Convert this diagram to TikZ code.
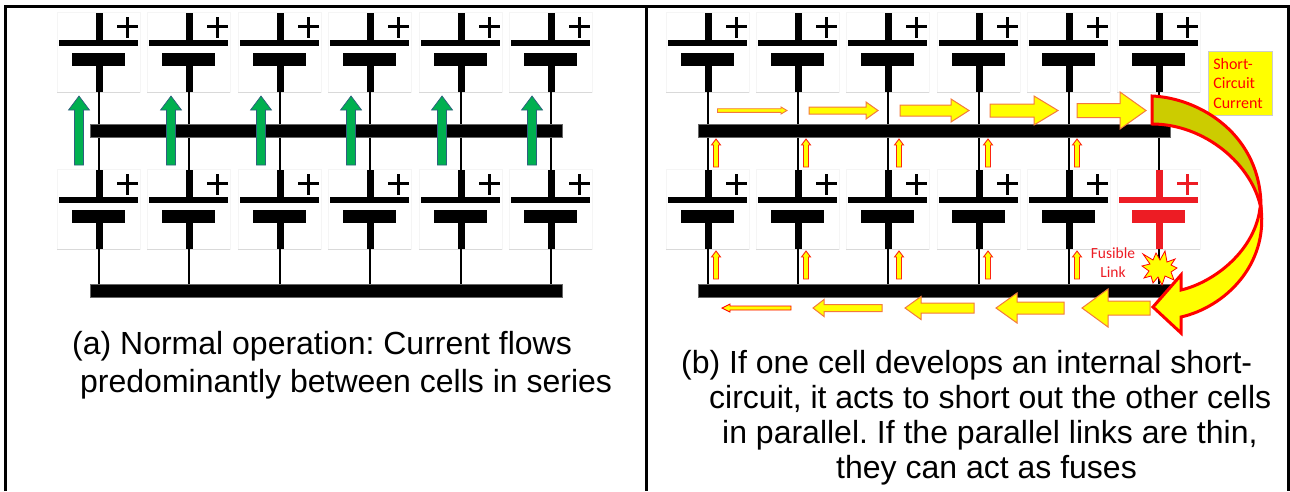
\documentclass[tikz,border=0pt]{standalone}
\usepackage{fontspec}
\setmainfont{Liberation Sans}
\newfontfamily\calfont{Carlito}
\definecolor{olivey}{HTML}{CCCC00}
\definecolor{cellred}{HTML}{ED1C24}
\definecolor{greenar}{HTML}{00B050}
\definecolor{greenedge}{HTML}{2F5F7F}
\definecolor{arrowedge}{HTML}{F4793B}
\definecolor{pureyellow}{HTML}{FFFF00}
\definecolor{purered}{HTML}{FF0000}
\tikzset{
  pxl/.style={x=1pt,y=-1pt},
  cellside/.style={draw=black!4,line width=0.8pt},
  cellbase/.style={draw=black!15,line width=0.8pt},
  busbar/.style={fill=black,draw=black!60,line width=0.4pt,minimum width=472pt,minimum height=13pt,inner sep=0pt},
  wire/.style={draw=black,line width=1.4pt},
  greenarrow/.style={fill=greenar,draw=greenedge,line width=0.7pt},
  flow/.style={fill=pureyellow,draw=arrowedge,line width=1pt},
  thinflow/.style={fill=pureyellow,draw=purered,line width=0.9pt},
  bigflow/.style={draw=purered,line width=3pt,line join=miter},
  caption/.style={font=\fontsize{32}{38}\selectfont,inner sep=0pt,anchor=base west},
  frameline/.style={draw=black,line width=3pt},
  redlabel/.style={text=cellred,font=\calfont\fontsize{15.5}{19.5}\selectfont,inner sep=0pt,align=center}
}
% #1 x of stem, #2 y of top, #3 colour
\newcommand{\cellsym}[3]{%
  \draw[cellside] (#1-42,#2+80) -- (#1-42,#2-1) -- (#1+41,#2-1) -- (#1+41,#2+80);
  \draw[cellbase] (#1-42,#2+79.5) -- (#1+41,#2+79.5);
  \fill[#3] (#1-3.5,#2) rectangle (#1+3.5,#2+28);
  \fill[#3] (#1-40,#2+26.5) rectangle (#1+39,#2+33);
  \fill[#3] (#1-27,#2+40) rectangle (#1+26,#2+53);
  \fill[#3] (#1-3.5,#2+53) rectangle (#1+3.5,#2+79);
  \fill[#3] (#1+18,#2+12.2) rectangle (#1+39,#2+15.4);
  \fill[#3] (#1+26.8,#2+4) rectangle (#1+30.3,#2+25);
}
\newcommand{\uparr}[3]{%
  \draw[flow,draw=purered!70!arrowedge,line width=0.9pt] (#1-2.5,#3) -- (#1-2.5,#2+6) -- (#1-4.5,#2+6) -- (#1,#2) -- (#1+4.5,#2+6) -- (#1+2.5,#2+6) -- (#1+2.5,#3) -- cycle;
}
\newcommand{\hrarr}[6]{%
  \draw[flow] (#1,#4-#5) -- (#3,#4-#5) -- (#3,#4-#6) -- (#2,#4) -- (#3,#4+#6) -- (#3,#4+#5) -- (#1,#4+#5) -- cycle;
}
\begin{document}
\frenchspacing
\begin{tikzpicture}[pxl]
\useasboundingbox (0,0) rectangle (1290,491);
\fill[white] (0,0) rectangle (1290,491);
% frame
\coordinate (fbl) at (5.5,491);
\coordinate (ftl) at (5.5,6.5);
\coordinate (ftr) at (1288.5,6.5);
\coordinate (fbr) at (1288.5,491);
\coordinate (dt) at (646,6.5);
\coordinate (db) at (646,491);
\draw[frameline] (fbl) -- (ftl) -- (ftr) -- (fbr);
\draw[frameline] (dt) -- (db);
% left panel
\foreach \x in {99,189,280,370,461,551}{
  \cellsym{\x}{13}{black}
  \cellsym{\x}{170}{black}
  \draw[wire] (\x,92) -- (\x,170);
  \draw[wire] (\x,249) -- (\x,285);
}
\node[busbar] (lbar1) at (326,130.5) {};
\node[busbar] (lbar2) at (326,291) {};
\foreach \x in {79,171,261,351,442,532}{
  \draw[greenarrow] (\x-4.5,165) -- (\x-4.5,110) -- (\x-10.5,110) -- (\x,96) -- (\x+10.5,110) -- (\x+4.5,110) -- (\x+4.5,165) -- cycle;
}
% right panel
\foreach \x in {708,798,888,979,1069,1159}{\cellsym{\x}{13}{black}}
\foreach \x in {708,798,888,979,1069}{\cellsym{\x}{170}{black}}
\cellsym{1159}{170}{cellred}
\foreach \x in {708,798,888,979,1069,1159}{
  \draw[wire] (\x,92) -- (\x,170);
  \draw[wire] (\x,249) -- (\x,285);
}
\node[busbar] (rbar1) at (934,130.5) {};
\node[busbar] (rbar2) at (934,291) {};
\foreach \x in {716,806,899,988,1077}{
  \uparr{\x}{139}{167}
  \uparr{\x}{251}{279}
}
% top flow arrows
\draw[thinflow,draw=arrowedge] (717.5,108.7) -- (781,108.7) -- (781,107) -- (787,110.5) -- (781,114) -- (781,112.3) -- (717.5,112.3) -- cycle;
\hrarr{809}{878}{866}{110.5}{3.5}{8.5}
\hrarr{900}{969}{951}{110.5}{5.5}{11.5}
\hrarr{990}{1058}{1034}{110.5}{6.5}{14.5}
\hrarr{1077}{1146}{1120}{110.5}{7}{18.5}
% bottom flow arrows
\draw[thinflow] (791,306) -- (730,306) -- (730,304) -- (722,308) -- (730,312) -- (730,310) -- (791,310) -- cycle;
\hrarr{882}{813}{824}{308}{3.5}{8.5}
\hrarr{974}{905}{921}{308}{5}{11.5}
\hrarr{1064}{996}{1017}{308}{6}{15}
\hrarr{1150}{1082}{1108}{308}{7}{19}
% short-circuit label
\node[draw=black!20,fill=pureyellow,line width=0.6pt,minimum width=64pt,minimum height=64pt,redlabel,text=purered,font=\calfont\fontsize{16}{19.5}\selectfont,text width=54pt,align=left,anchor=north west] (sc) at (1208,51) {Short-\\Circuit\\Current};
% big curved arrow
\draw[bigflow,fill=pureyellow] (1153,307) -- (1181,275) -- (1181,290)
  .. controls (1215,282) and (1255,250) .. (1260,208)
  -- (1261,208)
  .. controls (1268,265) and (1225,307) .. (1181,317)
  -- (1181,333) -- cycle;
\draw[bigflow,fill=olivey] (1152,96)
  .. controls (1200,98) and (1262,135) .. (1261,209)
  .. controls (1253,165) and (1205,124) .. (1152,124) -- cycle;
% fusible link
\node[redlabel] (fuse) at (1113,262.5) {Fusible\\Link};
\draw[fill=pureyellow,draw=purered,line width=0.8pt]
  (1143,254) -- (1153,260) -- (1156,253) -- (1160,260) -- (1165,251) -- (1167,262) -- (1175,259)
  -- (1171,265) -- (1177,268) -- (1171,272) -- (1174,280) -- (1165,276) -- (1162,285)
  -- (1158,277) -- (1153,283) -- (1151,276) -- (1144,278) -- (1149,271) -- (1142,266) -- (1150,264) -- cycle;
% captions
\node[caption] (capa1) at (72,354) {(a) Normal operation: Current flows};
\node[caption] (capa2) at (80,392) {predominantly between cells in series};
\node[caption] (capb1) at (681,373) {(b) If one cell develops an internal short-};
\node[caption] (capb2) at (709,408) {circuit, it acts to short out the other cells};
\node[caption] (capb3) at (722,443) {in parallel. If the parallel links are thin,};
\node[caption] (capb4) at (836,478) {they can act as fuses};
\end{tikzpicture}
\end{document}
